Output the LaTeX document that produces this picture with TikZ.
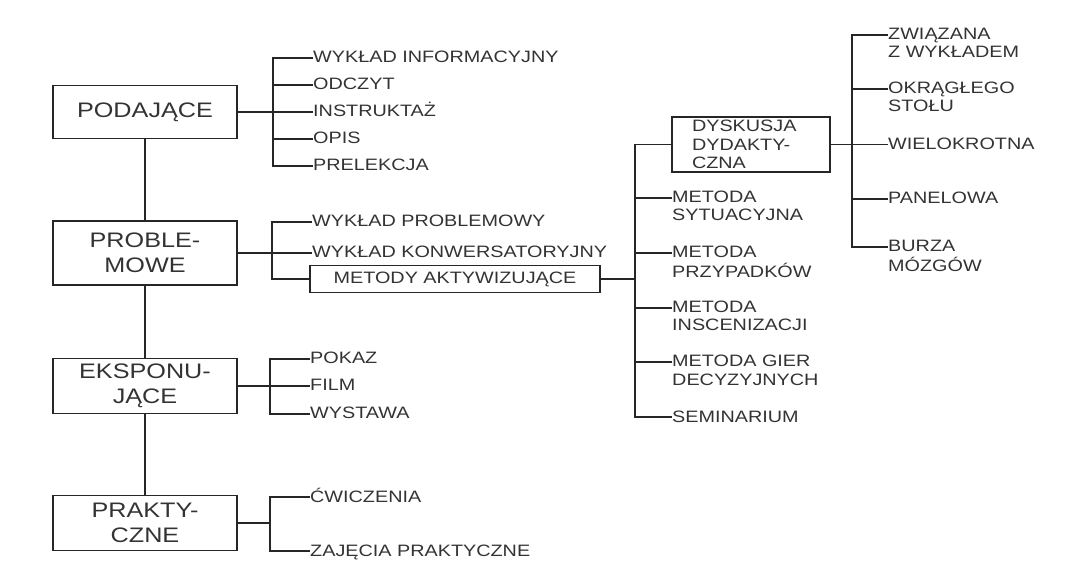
\documentclass[tikz,border=0pt]{standalone}
\usepackage{fontspec}
\setmainfont{Liberation Sans}[FakeStretch=1.2]
\newcommand{\twoline}[2]{\begin{tabular}[t]{@{}l@{}}#1\\#2\end{tabular}}
\begin{document}
\begin{tikzpicture}[x=1pt,y=-1pt,
  group/.style={draw=black!85,line width=1.8pt,text=black!80,minimum width=184pt,inner sep=0pt,align=center,font=\fontsize{21}{25}\selectfont},
  method/.style={draw=black!85,line width=1.2pt,text=black!80,inner sep=0pt,font=\fontsize{16.5}{18}\selectfont},
  leaf/.style={anchor=base west,inner sep=0pt,text=black!80,font=\fontsize{16.5}{18}\selectfont},
  link/.style={draw=black!85,line width=1.1pt}]
\useasboundingbox (0,0) rectangle (1077,577);
% main groups
\node[group,minimum height=53pt] (pod) at (145,112) {PODAJĄCE};
\node[group,minimum height=64pt] (prob) at (145,253) {PROBLE-\\MOWE};
\node[group,minimum height=55pt] (eksp) at (145,386) {EKSPONU-\\JĄCE};
\node[group,minimum height=55pt] (prak) at (145,523) {PRAKTY-\\CZNE};
\draw[link] (pod) -- (prob);
\draw[link] (prob) -- (eksp);
\draw[link] (eksp) -- (prak);
% podajace
\coordinate (podfork) at (273,112);
\node[leaf] (winf) at (313,63) {WYKŁAD INFORMACYJNY};
\node[leaf] (odcz) at (313,90) {ODCZYT};
\node[leaf] (instr) at (313,117) {INSTRUKTAŻ};
\node[leaf] (opis) at (313,144) {OPIS};
\node[leaf] (prel) at (313,171) {PRELEKCJA};
\draw[link] (pod) -- (podfork);
\draw[link] ([yshift=5pt]winf.base west) -| (podfork) |- ([yshift=5pt]prel.base west);
\draw[link] ([yshift=5pt]odcz.base west) -| (podfork);
\draw[link] ([yshift=5pt]instr.base west) -| (podfork);
\draw[link] ([yshift=5pt]opis.base west) -| (podfork);
% problemowe
\coordinate (probfork) at (272,253);
\node[leaf] (wprob) at (312,227) {WYKŁAD PROBLEMOWY};
\node[leaf] (wkonw) at (312,258) {WYKŁAD KONWERSATORYJNY};
\node[method,minimum width=290pt,minimum height=27pt] (aktyw) at (455,279) {METODY AKTYWIZUJĄCE};
\draw[link] (prob) -- (probfork);
\draw[link] ([yshift=5pt]wprob.base west) -| (probfork) |- (aktyw.west);
\draw[link] ([yshift=5pt]wkonw.base west) -- (probfork);
% metody aktywizujace
\coordinate (aktfork) at (635,279);
\node[method,text width=118pt,inner xsep=20pt,minimum height=55pt,align=left,font=\fontsize{16.5}{18.3}\selectfont] (dysk) at (751,144.5) {DYSKUSJA\\DYDAKTY-\\CZNA};
\node[leaf] (msyt) at (672,203) {\twoline{METODA}{SYTUACYJNA}};
\node[leaf] (mprz) at (672,258) {\twoline{METODA}{PRZYPADKÓW}};
\node[leaf] (mins) at (672,313) {\twoline{METODA}{INSCENIZACJI}};
\node[leaf] (mgier) at (672,367) {\twoline{METODA GIER}{DECYZYJNYCH}};
\node[leaf] (semi) at (672,422) {SEMINARIUM};
\draw[link] (aktyw) -- (aktfork);
\draw[link] (dysk.west) -| (aktfork) |- ([yshift=5pt]semi.base west);
\draw[link] ([yshift=5pt]msyt.base west) -| (aktfork);
\draw[link] ([yshift=5pt]mprz.base west) -| (aktfork);
\draw[link] ([yshift=5pt]mins.base west) -| (aktfork);
\draw[link] ([yshift=5pt]mgier.base west) -| (aktfork);
% dyskusja
\coordinate (dyskfork) at (852,144.5);
\node[leaf] (zwi) at (888,40) {\twoline{ZWIĄZANA}{Z WYKŁADEM}};
\node[leaf] (okr) at (888,94) {\twoline{OKRĄGŁEGO}{STOŁU}};
\node[leaf] (wiel) at (888,149.5) {WIELOKROTNA};
\node[leaf] (pan) at (888,204) {PANELOWA};
\node[leaf] (burz) at (888,252) {\twoline{BURZA}{MÓZGÓW}};
\draw[link] (dysk) -- (dyskfork);
\draw[link] ([yshift=5pt]zwi.base west) -| (dyskfork) |- ([yshift=5pt]burz.base west);
\draw[link] ([yshift=5pt]okr.base west) -| (dyskfork);
\draw[link] ([yshift=5pt]wiel.base west) -- (dyskfork);
\draw[link] ([yshift=5pt]pan.base west) -| (dyskfork);
% eksponujace
\coordinate (ekspfork) at (270,386);
\node[leaf] (pok) at (310,364) {POKAZ};
\node[leaf] (film) at (310,391) {FILM};
\node[leaf] (wyst) at (310,419) {WYSTAWA};
\draw[link] (eksp) -- (ekspfork);
\draw[link] ([yshift=5pt]pok.base west) -| (ekspfork) |- ([yshift=5pt]wyst.base west);
\draw[link] ([yshift=5pt]film.base west) -- (ekspfork);
% praktyczne
\coordinate (prakfork) at (270,523);
\node[leaf] (cwi) at (310,502) {ĆWICZENIA};
\node[leaf] (zaj) at (310,556) {ZAJĘCIA PRAKTYCZNE};
\draw[link] (prak) -- (prakfork);
\draw[link] ([yshift=5pt]cwi.base west) -| (prakfork) |- ([yshift=5pt]zaj.base west);
\end{tikzpicture}
\end{document}
